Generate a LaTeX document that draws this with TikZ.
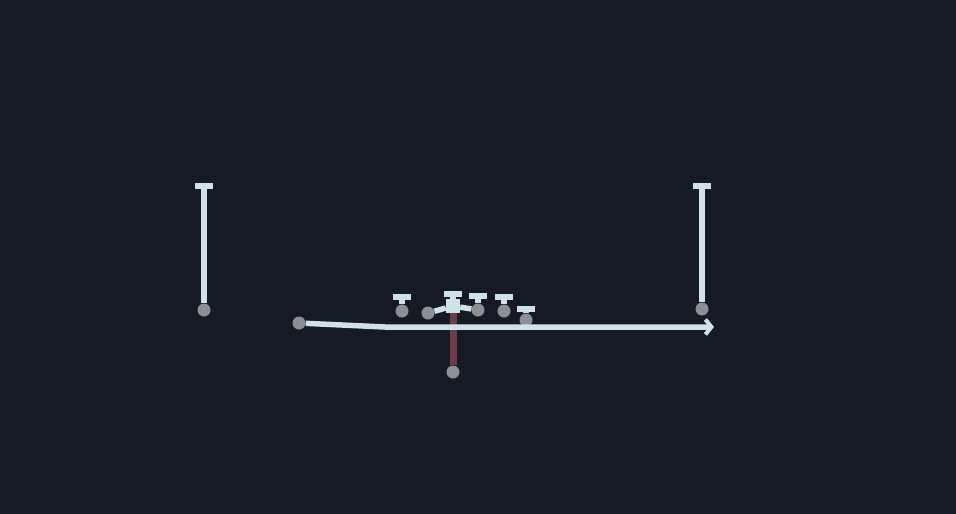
\documentclass[tikz,border=0pt]{standalone}
\usepackage{xcolor}
\usetikzlibrary{arrows.meta}

\definecolor{field}{HTML}{161B23}
\definecolor{chalk}{HTML}{CFE2E8}
\definecolor{dotgray}{HTML}{8E8F95}
\definecolor{runpath}{HTML}{6E3B4B}

\begin{document}
\begin{tikzpicture}[x=1pt,y=-1pt,
  player/.style={circle,fill=dotgray,inner sep=0pt,minimum size=13pt},
  snapper/.style={rectangle,fill=chalk,inner sep=0pt,minimum size=14pt},
  route/.style={draw=chalk,line width=5.5pt},
  block/.style={route,-{Bar[width=18pt,line width=5.5pt]}},
  motion/.style={route,-{Straight Barb[length=6pt,width=15pt,line width=4pt]}}]

                \fill[field] (0,0) rectangle (956,514);
                \useasboundingbox (0,0) rectangle (956,514);

                % players
                \node[player] (wl) at (204,310) {};
                \node[player] (wr) at (702,309) {};
                \node[player] (mo) at (299,323) {};
                \node[player] (lg) at (402,311) {};
                \node[player] (lt) at (428,313) {};
                \node[snapper] (c) at (453,306) {};
                \node[player] (rg) at (478,310) {};
                \node[player] (rt) at (504,311) {};
                \node[player] (te) at (526,320) {};
                \node[player] (rb) at (453,372) {};

                % ends of routes and blocks
                \coordinate (wlT) at (204,183);
                \coordinate (wrT) at (702,183);
                \coordinate (lgT) at (402,294);
                \coordinate (cT) at (453,291);
                \coordinate (rgT) at (478,293);
                \coordinate (rtT) at (504,294);
                \coordinate (teT) at (526,306);
                \coordinate (mo1) at (385,327);
                \coordinate (moE) at (714,327);

                \draw[runpath,line width=7pt] (rb) -- (c);
                \draw[route] (lt) -- (c);
                \draw[route] (c) -- (rg);
                \draw[block] (wl) -- (wlT);
                \draw[block] (wr) -- (wrT);
                \draw[block] (lg) -- (lgT);
                \draw[block] (c) -- (cT);
                \draw[block] (rg) -- (rgT);
                \draw[block] (rt) -- (rtT);
                \draw[block] (te) -- (teT);
                \draw[motion] (mo) -- (mo1) -- (moE);
            \end{tikzpicture}
\end{document}
